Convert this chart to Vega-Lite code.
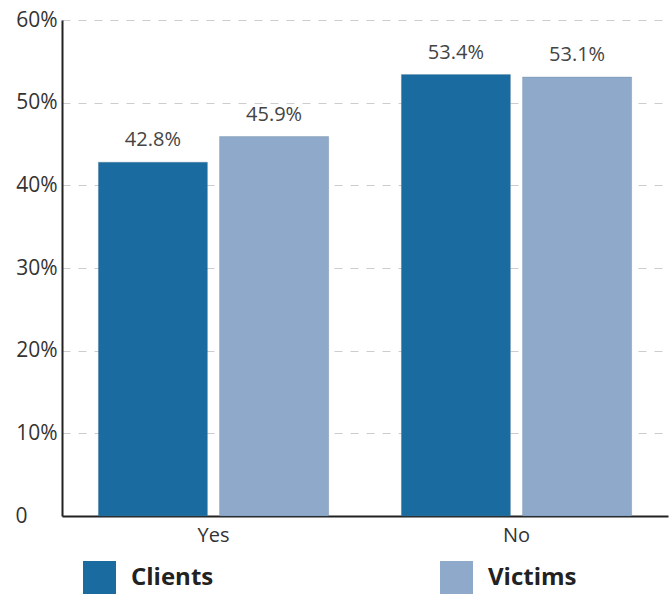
{
  "$schema": "https://vega.github.io/schema/vega-lite/v6.json",
  "autosize": "none",
  "width": 606,
  "height": 496,
  "padding": {"left": 62, "top": 20, "right": 2, "bottom": 78},
  "background": "white",
  "config": {
    "view": {"stroke": null},
    "font": "Open Sans",
    "axis": {"labelFont": "Open Sans", "labelColor": "#333333", "labelFontSize": 20}
  },
  "data": {
    "values": [
      {"answer": "Yes", "group": "Clients", "value": 0.428},
      {"answer": "Yes", "group": "Victims", "value": 0.459},
      {"answer": "No", "group": "Clients", "value": 0.534},
      {"answer": "No", "group": "Victims", "value": 0.531}
    ]
  },
  "encoding": {
    "x": {
      "field": "answer", "type": "nominal", "sort": ["Yes", "No"],
      "scale": {"paddingInner": 0, "paddingOuter": 0},
      "axis": {"title": null, "labelAngle": 0, "ticks": false, "domainColor": "#222222", "domainWidth": 2, "labelPadding": 9, "labelFontSize": 20}
    },
    "xOffset": {
      "field": "group", "type": "nominal", "sort": ["Clients", "Victims"],
      "scale": {"paddingInner": 0.1, "paddingOuter": 0.3}
    },
    "y": {
      "field": "value", "type": "quantitative",
      "scale": {"domain": [0, 0.6], "nice": false},
      "axis": {
        "title": null,
        "values": [0, 0.1, 0.2, 0.3, 0.4, 0.5, 0.6],
        "labelExpr": "datum.value == 0 ? '0' : format(datum.value, '.0%')",
        "ticks": false,
        "labelPadding": {"condition": {"test": "datum.value == 0", "value": 35}, "value": 5},
        "labelFontSize": 21,
        "domainColor": "#222222",
        "domainWidth": 2,
        "grid": true,
        "gridColor": "#cccccc",
        "gridDash": [8, 8],
        "gridWidth": 1.2
      }
    }
  },
  "layer": [
    {
      "mark": {"type": "bar", "stroke": "#5a7a95", "strokeOpacity": 0.3, "strokeWidth": 1},
      "encoding": {
        "color": {
          "field": "group", "type": "nominal",
          "scale": {"domain": ["Clients", "Victims"], "range": ["#1a6ca0", "#8ea9c9"]},
          "legend": {
            "title": null,
            "orient": "none",
            "direction": "horizontal",
            "legendX": 21,
            "legendY": 541,
            "padding": 0,
            "symbolType": "square",
            "symbolSize": 1089,
            "symbolStrokeWidth": 0,
            "labelFont": "Open Sans",
            "labelFontSize": 24,
            "labelFontWeight": "bold",
            "labelColor": "#222222",
            "labelOffset": 15,
            "columnPadding": 226
          }
        }
      }
    },
    {
      "mark": {"type": "text", "baseline": "alphabetic", "dy": -16, "fontSize": 20, "color": "#444444", "font": "Open Sans"},
      "encoding": {
        "text": {"field": "value", "type": "quantitative", "format": ".1%"}
      }
    }
  ]
}
